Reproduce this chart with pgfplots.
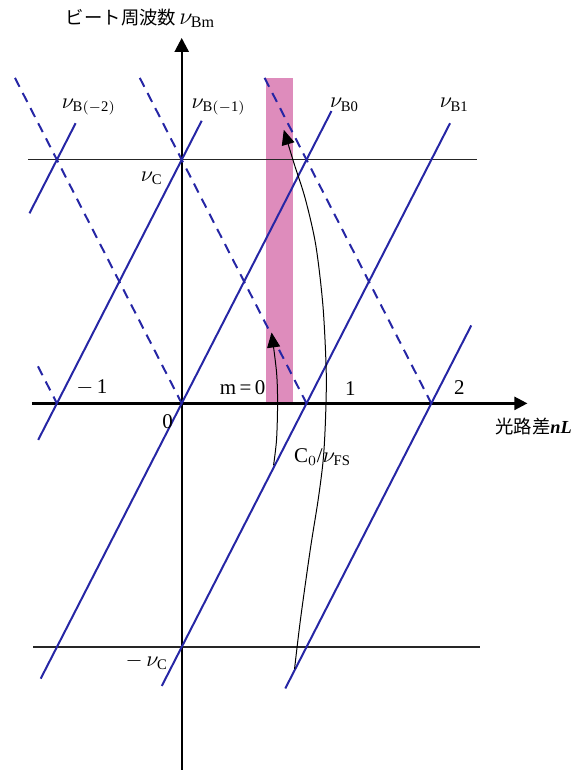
\documentclass[border=0pt]{standalone}
\usepackage{fontspec}
\setmainfont{Liberation Serif}
\newfontfamily\jp{Noto Sans CJK JP}
\usepackage{pgfplots}
\pgfplotsset{compat=1.18}
\usetikzlibrary{arrows.meta}
\definecolor{lineblue}{RGB}{38,38,165}
\definecolor{barpink}{RGB}{222,140,188}
\tikzset{
  beat/.style={lineblue, line width=1pt},
  alias/.style={lineblue, line width=1pt, dash pattern=on 5pt off 3.5pt},
  level/.style={black!85, line width=0.65pt},
  ax/.style={black, line width=1.2pt},
  flow/.style={black, line width=0.5pt, smooth, -{Triangle[length=7.5pt,width=6.5pt]}},
  lab/.style={font=\fontsize{10.5}{12}\selectfont},
}

\begin{document}
\begin{tikzpicture}
\begin{axis}[
    width=290pt, height=385.5pt, scale only axis,
    xmin=-1.456, xmax=3.184, ymin=-1.504, ymax=1.6557,
    hide axis, clip=false,
    font=\fontsize{9.2}{11}\selectfont,
  ]
  % bounding box = whole picture
  \path (rel axis cs:0,0) rectangle (rel axis cs:1,1);

  % pink band
  \addplot[draw=none, fill=barpink] coordinates {(0.672,0) (0.888,0) (0.888,1.336) (0.672,1.336)} -- cycle;

  % +nu_C and -nu_C levels
  \addplot[level] coordinates {(-1.232,1) (2.368,1)};
  \addplot[level] coordinates {(-1.19,-1) (2.39,-1)};

  % axes
  \addplot[ax, -{Triangle[length=6.5pt,width=6.5pt]}] coordinates {(-1.2,0) (2.77,0)};
  \addplot[ax, -{Triangle[length=7pt,width=7pt]}] coordinates {(0,-1.504) (0,1.50)};

  % beat lines nu_Bm = nL - m
  \addplot[beat] coordinates {(-1.22,0.78) (-0.85,1.15)};
  \addplot[beat] coordinates {(-1.15,-0.15) (0.16,1.16)};
  \addplot[beat] coordinates {(-1.13,-1.13) (1.20,1.20)};
  \addplot[beat] coordinates {(-0.16,-1.16) (2.15,1.15)};
  \addplot[beat] coordinates {(0.83,-1.17) (2.32,0.32)};

  % folded (negative) beat lines
  \addplot[alias] coordinates {(-1.336,1.336) (0,0)};
  \addplot[alias] coordinates {(-0.336,1.336) (1,0)};
  \addplot[alias] coordinates {(0.664,1.336) (2,0)};
  \addplot[alias] coordinates {(-1.152,0.152) (-1,0)};

  % arrows
  \addplot[flow] coordinates {
    (0.904,-1.090) (0.952,-0.885) (1.030,-0.600) (1.094,-0.393)
    (1.134,-0.230) (1.152,-0.066) (1.158,0.127) (1.132,0.398)
    (1.074,0.650) (0.990,0.840) (0.900,0.985) (0.818,1.123)};
  \addplot[flow] coordinates {
    (0.736,-0.254) (0.760,-0.148) (0.768,0) (0.760,0.127) (0.720,0.291)};

  % labels
  \node[anchor=west] at (axis cs:-0.984,1.580) {{\jp ビート周波数}\,{\fontsize{11.5}{12}\selectfont$\nu_{\mathrm{Bm}}$}};
  \node[anchor=west] at (axis cs:2.456,-0.094) {{\jp 光路差}\textbf{\textit{nL}}};
  \node[lab] at (axis cs:-0.744,1.217) {$\nu_{\mathrm{B(-2)}}$};
  \node[lab] at (axis cs:0.296,1.217) {$\nu_{\mathrm{B(-1)}}$};
  \node[lab] at (axis cs:1.304,1.225) {$\nu_{\mathrm{B0}}$};
  \node[lab] at (axis cs:2.184,1.225) {$\nu_{\mathrm{B1}}$};
  \node[lab] at (axis cs:-0.24,0.925) {$\nu_{\mathrm{C}}$};
  \node[lab] at (axis cs:-0.28,-1.060) {$-\,\nu_{\mathrm{C}}$};
  \node[lab] at (axis cs:-0.72,0.066) {$-$\,1};
  \node[lab] at (axis cs:0.488,0.066) {m\,=\,0};
  \node[lab] at (axis cs:1.352,0.060) {1};
  \node[lab] at (axis cs:2.224,0.066) {2};
  \node[lab] at (axis cs:-0.112,-0.074) {0};
  \node[lab] at (axis cs:1.128,-0.221) {C$_0$/$\nu_{\mathrm{FS}}$};
\end{axis}
\end{tikzpicture}
\end{document}
